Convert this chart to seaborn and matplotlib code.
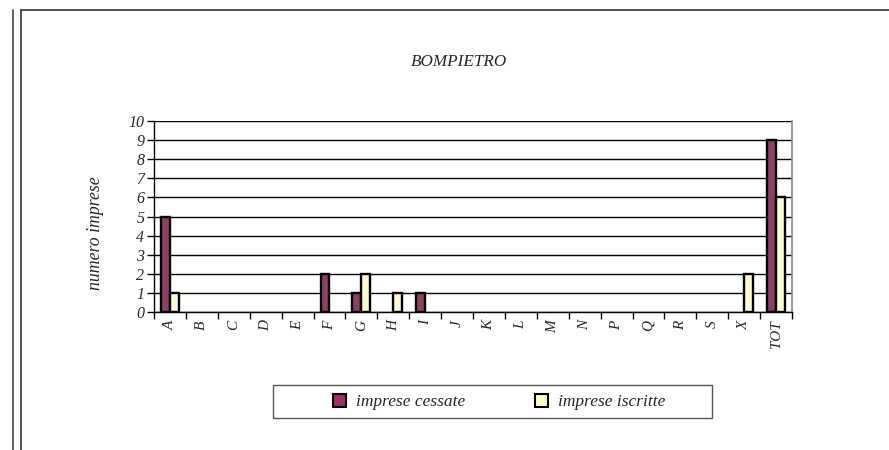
import matplotlib
matplotlib.use("Agg")
import matplotlib.pyplot as plt
from matplotlib.lines import Line2D
from matplotlib.patches import Patch, Rectangle
import seaborn as sns
import pandas as pd

categories = ["A", "B", "C", "D", "E", "F", "G", "H", "I", "J", "K", "L",
              "M", "N", "P", "Q", "R", "S", "X", "TOT"]
cessate = [5, 0, 0, 0, 0, 2, 1, 0, 1, 0, 0, 0, 0, 0, 0, 0, 0, 0, 0, 9]
iscritte = [1, 0, 0, 0, 0, 0, 2, 1, 0, 0, 0, 0, 0, 0, 0, 0, 0, 0, 2, 6]
series_names = ["imprese cessate", "imprese iscritte"]
colors = ["#993366", "#FFFFCC"]
title = "BOMPIETRO"
ylabel = "numero imprese"

sns.set_theme(style="white")
plt.rcParams["font.family"] = ["Liberation Serif", "DejaVu Serif"]

df = pd.DataFrame({
    "cat": categories * 2,
    "val": cessate + iscritte,
    "series": [series_names[0]] * len(categories) + [series_names[1]] * len(categories),
})

fig = plt.figure(figsize=(8.89, 4.5), dpi=100)
ax = fig.add_axes([154 / 889, 138 / 450, 638 / 889, 191 / 450])

sns.barplot(data=df, x="cat", y="val", hue="series", order=categories,
            hue_order=series_names, palette=colors, edgecolor="black",
            linewidth=1.7, width=0.56, ax=ax, legend=False)
for p in ax.patches:
    if p.get_height() == 0:
        p.set_visible(False)

ax.set_xlim(-0.5, len(categories) - 0.5)
ax.set_ylim(0, 10)
ax.set_yticks(range(0, 11))
ax.set_yticklabels([str(i) for i in range(0, 11)], fontstyle="italic", fontsize=11.5)
ax.yaxis.grid(True, color="black", linewidth=1.0)
ax.set_axisbelow(True)
ax.set_xlabel("")
ax.set_ylabel(ylabel, fontstyle="italic", fontsize=12.8)
ax.yaxis.set_label_coords(-0.079, 0.414)

ax.set_xticks(range(len(categories)))
ax.set_xticklabels(categories, rotation=90, fontstyle="italic", fontsize=11)
ax.set_xticks([i - 0.5 for i in range(len(categories) + 1)], minor=True)
ax.tick_params(axis="x", which="major", length=0, pad=6)
ax.tick_params(axis="x", which="minor", length=5, width=1, color="black", direction="out", bottom=True)
ax.tick_params(axis="y", which="major", length=5, width=1, color="black", direction="out", left=True, pad=2)

for s in ["left", "bottom"]:
    ax.spines[s].set_color("black")
    ax.spines[s].set_linewidth(1.0)
ax.spines["top"].set_visible(False)
ax.spines["right"].set_color("#888888")
ax.spines["right"].set_linewidth(1.2)

fig.text(459 / 889, 1 - 62 / 450, title, ha="center", va="center",
         fontstyle="italic", fontsize=12.3)

# legend frame
fig.add_artist(Rectangle((273 / 889, 1 - 418 / 450), 439 / 889, 33 / 450,
                         transform=fig.transFigure, facecolor="white",
                         edgecolor="#555555", linewidth=1.0))
handles = [Patch(facecolor=c, edgecolor="black", linewidth=1.5) for c in colors]
leg = fig.legend(handles, series_names, loc="center",
                 bbox_to_anchor=(499 / 889, 1 - 402 / 450), ncol=2,
                 frameon=False,
                 prop={"style": "italic", "size": 12.5},
                 handlelength=0.75, handleheight=0.75, handletextpad=0.6,
                 columnspacing=4.0, borderpad=0.3)

# page frame lines
fig.add_artist(Line2D([12.5 / 889, 12.5 / 889], [0, 1 - 10 / 450], transform=fig.transFigure,
                      color="#444444", linewidth=1.2))
fig.add_artist(Line2D([21 / 889, 21 / 889], [0, 1 - 10 / 450], transform=fig.transFigure,
                      color="#333333", linewidth=1.2))
fig.add_artist(Line2D([21 / 889, 1], [1 - 10 / 450, 1 - 10 / 450], transform=fig.transFigure,
                      color="#333333", linewidth=1.2))

fig.savefig("out.png", dpi=100)
